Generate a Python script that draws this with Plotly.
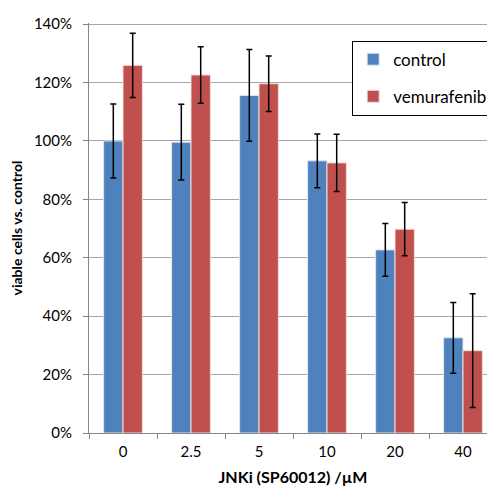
import plotly.graph_objects as go

categories = ["0", "2.5", "5", "10", "20", "40"]
control = [100.0, 99.6, 115.6, 93.2, 62.7, 32.6]
control_err = [12.7, 13.0, 15.7, 9.2, 9.0, 12.1]
vemurafenib = [125.9, 122.6, 119.6, 92.5, 69.8, 28.2]
vemurafenib_err = [11.0, 9.7, 9.5, 9.8, 9.1, 19.5]
y_tick_vals = [0, 20, 40, 60, 80, 100, 120, 140]
y_tick_text = ["0%", "20%", "40%", "60%", "80%", "100%", "120%", "140%"]

font_family = "Lato, Liberation Sans, Arial, sans-serif"

fig = go.Figure()
fig.add_trace(go.Bar(
    x=categories, y=control, name="control", legendgroup="a",
    marker=dict(color="#4F81BD", line=dict(color="#DCE6F2", width=1)),
    error_y=dict(type="data", array=control_err, color="black", thickness=1.5, width=3),
))
fig.add_trace(go.Bar(
    x=categories, y=vemurafenib, name="vemurafenib", legendgroup="b",
    marker=dict(color="#C0504D", line=dict(color="#F2DCDB", width=1)),
    error_y=dict(type="data", array=vemurafenib_err, color="black", thickness=1.5, width=3),
))

fig.update_layout(
    width=495, height=486,
    margin=dict(l=78, r=6, t=8, b=61),
    paper_bgcolor="white", plot_bgcolor="white",
    barmode="group", bargap=0.43, bargroupgap=0,
    font=dict(family=font_family, size=13, color="black"),
    legend=dict(
        x=0.645, y=0.957, xanchor="left", yanchor="top",
        bordercolor="black", borderwidth=1, bgcolor="white",
        font=dict(size=17), tracegroupgap=12, traceorder="grouped",
        itemwidth=30,
    ),
    xaxis=dict(
        type="category", showline=True, linecolor="#868686", linewidth=1,
        ticks="outside", tickson="boundaries", ticklen=5, tickcolor="#868686",
        title=dict(text="<b>JNKi (SP60012) /µM</b>", font=dict(size=16), standoff=12),
        tickfont=dict(size=15), ticklabelstandoff=5,
    ),
    yaxis=dict(
        range=[0, 140.4], tickvals=y_tick_vals, ticktext=y_tick_text,
        showline=True, linecolor="#868686", linewidth=1,
        ticks="outside", ticklen=5, tickcolor="#868686",
        showgrid=True, gridcolor="#A6A6A6", gridwidth=1.2,
        zeroline=False, ticklabelstandoff=8, ticklabeloverflow="allow",
        title=dict(text="<b>viable cells vs. control</b>", font=dict(size=14), standoff=10),
        tickfont=dict(size=15),
    ),
)

fig.write_html("out.html")
